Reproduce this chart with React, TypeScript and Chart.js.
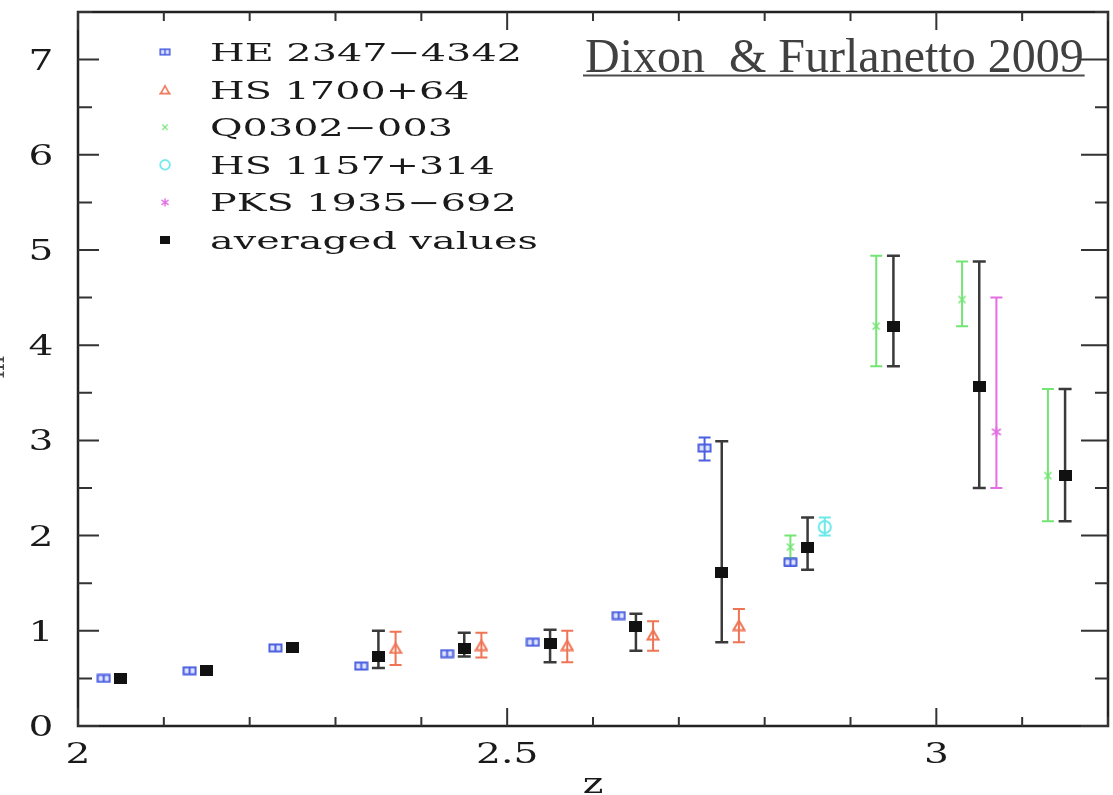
import React, { useEffect, useRef } from "react";
import { Chart, registerables } from "chart.js";

Chart.register(...registerables);

// ---- data: redshift z and measured values with error ranges ----
const heZ = [2.03, 2.13, 2.23, 2.33, 2.43, 2.53, 2.63, 2.73, 2.83];
const heVal = [0.5, 0.58, 0.82, 0.63, 0.76, 0.88, 1.16, 2.92, 1.72];
const heLo = [0.49, 0.57, 0.81, 0.62, 0.75, 0.87, 1.15, 2.79, 1.68];
const heHi = [0.51, 0.59, 0.83, 0.64, 0.77, 0.89, 1.17, 3.03, 1.76];

const hsZ = [2.37, 2.47, 2.57, 2.67, 2.77];
const hsVal = [0.82, 0.85, 0.85, 0.96, 1.06];
const hsLo = [0.64, 0.72, 0.67, 0.79, 0.88];
const hsHi = [0.99, 0.98, 1.0, 1.1, 1.23];

const qZ = [2.83, 2.93, 3.03, 3.13];
const qVal = [1.88, 4.2, 4.48, 2.63];
const qLo = [1.76, 3.78, 4.2, 2.15];
const qHi = [2.0, 4.94, 4.88, 3.54];

const hs2Z = [2.87];
const hs2Val = [2.09];
const hs2Lo = [2.0];
const hs2Hi = [2.19];

const pksZ = [3.07];
const pksVal = [3.09];
const pksLo = [2.5];
const pksHi = [4.5];

const avgZ = [2.05, 2.15, 2.25, 2.35, 2.45, 2.55, 2.65, 2.75, 2.85, 2.95, 3.05, 3.15];
const avgVal = [0.5, 0.58, 0.82, 0.73, 0.81, 0.87, 1.04, 1.61, 1.88, 4.2, 3.57, 2.63];
const avgLo = [0.5, 0.58, 0.82, 0.61, 0.73, 0.67, 0.79, 0.88, 1.64, 3.78, 2.5, 2.15];
const avgHi = [0.5, 0.58, 0.82, 1.0, 0.98, 1.01, 1.18, 2.99, 2.19, 4.94, 4.88, 3.54];

const seriesNames = [
  "HE 2347\u22124342",
  "HS 1700+64",
  "Q0302\u2212003",
  "HS 1157+314",
  "PKS 1935\u2212692",
  "averaged values",
];

const xTickValues = [2, 2.5, 3];
const xTickLabels = ["2", "2.5", "3"];
const yTickValues = [0, 1, 2, 3, 4, 5, 6, 7];
const yTickLabels = ["0", "1", "2", "3", "4", "5", "6", "7"];

const xAxisTitle = "z";
const yAxisTitle = "m";
const cornerNote = "Dixon  & Furlanetto 2009";

// ---- colours ----
const BLUE = "#4a5fe0";
const ORANGE = "#ee7454";
const GREEN = "#74e474";
const CYAN = "#6ae8ea";
const MAGENTA = "#e26ee2";
const BLACK = "#111111";

type Pt = { x: number; y: number; lo: number; hi: number };

function toPoints(z: number[], v: number[], lo: number[], hi: number[]): Pt[] {
  return z.map((x, i) => ({ x, y: v[i], lo: lo[i], hi: hi[i] }));
}

function makeCanvas(w: number, h: number, draw: (c: CanvasRenderingContext2D) => void) {
  const cv = document.createElement("canvas");
  cv.width = w;
  cv.height = h;
  const c = cv.getContext("2d")!;
  draw(c);
  return cv;
}

function buildMarkers() {
  const blue = makeCanvas(15, 10, (c) => {
    c.strokeStyle = BLUE;
    c.lineWidth = 2;
    c.fillStyle = "#dfe4ff";
    c.fillRect(1.5, 1.5, 12, 7);
    c.strokeRect(1.5, 1.5, 12, 7);
    c.beginPath();
    c.moveTo(7.5, 1.5);
    c.lineTo(7.5, 8.5);
    c.stroke();
  });
  const orange = makeCanvas(14, 13, (c) => {
    c.strokeStyle = ORANGE;
    c.lineWidth = 2;
    c.beginPath();
    c.moveTo(7, 2);
    c.lineTo(12.5, 11.5);
    c.lineTo(1.5, 11.5);
    c.closePath();
    c.stroke();
  });
  const green = makeCanvas(10, 10, (c) => {
    c.strokeStyle = GREEN;
    c.lineWidth = 1.6;
    c.beginPath();
    c.moveTo(1.5, 1.5);
    c.lineTo(8.5, 8.5);
    c.moveTo(8.5, 1.5);
    c.lineTo(1.5, 8.5);
    c.stroke();
  });
  const cyan = makeCanvas(16, 16, (c) => {
    c.strokeStyle = CYAN;
    c.lineWidth = 2;
    c.beginPath();
    c.arc(8, 8, 6, 0, Math.PI * 2);
    c.stroke();
  });
  const magenta = makeCanvas(12, 12, (c) => {
    c.strokeStyle = MAGENTA;
    c.lineWidth = 1.6;
    c.beginPath();
    c.moveTo(6, 1);
    c.lineTo(6, 11);
    c.moveTo(1.5, 3);
    c.lineTo(10.5, 9);
    c.moveTo(10.5, 3);
    c.lineTo(1.5, 9);
    c.stroke();
  });
  const black = makeCanvas(13, 11, (c) => {
    c.fillStyle = BLACK;
    c.fillRect(0, 0, 13, 11);
  });
  return [blue, orange, green, cyan, magenta, black];
}

function wideText(
  ctx: CanvasRenderingContext2D,
  text: string,
  x: number,
  y: number,
  font: string,
  sx: number,
  align: "left" | "center" | "right"
) {
  ctx.save();
  ctx.font = font;
  ctx.textAlign = "left";
  ctx.textBaseline = "alphabetic";
  const w = ctx.measureText(text).width * sx;
  const left = align === "center" ? x - w / 2 : align === "right" ? x - w : x;
  ctx.translate(left, y);
  ctx.scale(sx, 1);
  ctx.fillText(text, 0, 0);
  ctx.restore();
}

const errorBarPlugin = {
  id: "errorBars",
  beforeDatasetsDraw(chart: any) {
    const ctx: CanvasRenderingContext2D = chart.ctx;
    const xs = chart.scales.x;
    const ys = chart.scales.y;
    chart.data.datasets.forEach((ds: any) => {
      const color = ds.errColor;
      const cap = ds.capWidth;
      ctx.save();
      ctx.strokeStyle = color;
      ctx.lineWidth = ds.errWidth;
      (ds.data as Pt[]).forEach((p) => {
        if (p.hi - p.lo < 0.03) return;
        const px = xs.getPixelForValue(p.x);
        const top = ys.getPixelForValue(p.hi);
        const bot = ys.getPixelForValue(p.lo);
        ctx.beginPath();
        ctx.moveTo(px, top);
        ctx.lineTo(px, bot);
        ctx.moveTo(px - cap / 2, top);
        ctx.lineTo(px + cap / 2, top);
        ctx.moveTo(px - cap / 2, bot);
        ctx.lineTo(px + cap / 2, bot);
        ctx.stroke();
      });
      ctx.restore();
    });
  },
};

const framePlugin = {
  id: "frameAndText",
  afterDraw(chart: any) {
    const ctx: CanvasRenderingContext2D = chart.ctx;
    const xs = chart.scales.x;
    const ys = chart.scales.y;
    const { left, right, top, bottom } = chart.chartArea;

    ctx.save();
    // frame
    ctx.strokeStyle = "#222";
    ctx.lineWidth = 2.5;
    ctx.strokeRect(left, top, right - left, bottom - top);

    // ticks (inward on all four sides)
    ctx.lineWidth = 2;
    ctx.strokeStyle = "#333";
    ctx.beginPath();
    for (let i = 0; i <= 12; i++) {
      const v = 2 + i * 0.1;
      const px = xs.getPixelForValue(v);
      const major = i % 5 === 0;
      const len = major ? 18 : 9;
      ctx.moveTo(px, bottom);
      ctx.lineTo(px, bottom - len);
      ctx.moveTo(px, top);
      ctx.lineTo(px, top + len);
    }
    for (let i = 0; i <= 15; i++) {
      const v = i * 0.5;
      const py = ys.getPixelForValue(v);
      const major = i % 2 === 0;
      ctx.moveTo(left, py);
      ctx.lineTo(left + (major ? 21 : 14), py);
      ctx.moveTo(right, py);
      ctx.lineTo(right - (major ? 27 : 13), py);
    }
    ctx.stroke();

    // tick labels
    ctx.fillStyle = "#1a1a1a";
    const tickFont = '27px "DejaVu Serif"';
    xTickValues.forEach((v, i) => {
      wideText(ctx, xTickLabels[i], xs.getPixelForValue(v), 763, tickFont, 1.45, "center");
    });
    yTickValues.forEach((v, i) => {
      wideText(ctx, yTickLabels[i], 41, ys.getPixelForValue(v) + 10, tickFont, 1.45, "center");
    });
    wideText(ctx, xAxisTitle, (left + right) / 2, 793, tickFont, 1.45, "center");

    // y-axis title, rotated, sitting against the left edge of the page
    ctx.save();
    ctx.translate(4, 367);
    ctx.rotate(-Math.PI / 2);
    ctx.fillStyle = "#444";
    ctx.font = '24px "DejaVu Serif"';
    ctx.textAlign = "center";
    ctx.textBaseline = "alphabetic";
    ctx.fillText(yAxisTitle, 0, 0);
    ctx.restore();

    // legend
    const markers = chart.$markers as HTMLCanvasElement[];
    const legFont = '25px "DejaVu Serif"';
    ctx.font = legFont;
    const sx = 312 / ctx.measureText(seriesNames[0]).width;
    seriesNames.forEach((name, i) => {
      const cy = 52 + i * 37.6;
      const m = markers[i];
      const scale = i === 5 ? 0.75 : 0.8;
      ctx.drawImage(m, 165 - (m.width * scale) / 2, cy - (m.height * scale) / 2, m.width * scale, m.height * scale);
      ctx.fillStyle = "#1a1a1a";
      wideText(ctx, name, 210, cy + 9, legFont, sx, "left");
    });

    // reference note with underline
    ctx.fillStyle = "#404040";
    ctx.font = '48px "Liberation Serif"';
    ctx.textAlign = "left";
    ctx.textBaseline = "alphabetic";
    ctx.fillText(cornerNote, 585, 72);
    const w = ctx.measureText(cornerNote).width;
    ctx.strokeStyle = "#4a4a4a";
    ctx.lineWidth = 2;
    ctx.beginPath();
    ctx.moveTo(583, 75.5);
    ctx.lineTo(585 + w + 1, 75.5);
    ctx.stroke();
    ctx.restore();
  },
};

export default function App() {
  const ref = useRef<HTMLCanvasElement | null>(null);

  useEffect(() => {
    document.body.style.margin = "0";
    const markers = buildMarkers();
    const mk = (
      label: string,
      data: Pt[],
      marker: HTMLCanvasElement,
      errColor: string,
      errWidth: number,
      capWidth: number
    ) => ({
      label,
      data,
      pointStyle: marker,
      showLine: false,
      errColor,
      errWidth,
      capWidth,
    });

    const chart = new Chart(ref.current!, {
      type: "scatter",
      data: {
        datasets: [
          mk(seriesNames[0], toPoints(heZ, heVal, heLo, heHi), markers[0], BLUE, 2, 12),
          mk(seriesNames[1], toPoints(hsZ, hsVal, hsLo, hsHi), markers[1], ORANGE, 2, 12),
          mk(seriesNames[2], toPoints(qZ, qVal, qLo, qHi), markers[2], GREEN, 2, 12),
          mk(seriesNames[3], toPoints(hs2Z, hs2Val, hs2Lo, hs2Hi), markers[3], CYAN, 2, 12),
          mk(seriesNames[4], toPoints(pksZ, pksVal, pksLo, pksHi), markers[4], MAGENTA, 2, 12),
          mk(seriesNames[5], toPoints(avgZ, avgVal, avgLo, avgHi), markers[5], "#3a3a3a", 2.5, 13),
        ] as any,
      },
      options: {
        animation: false,
        responsive: false,
        devicePixelRatio: 1,
        layout: { padding: { left: 78, top: 12, right: 3, bottom: 69 } },
        scales: {
          x: { type: "linear", min: 2, max: 3.2, display: false },
          y: { type: "linear", min: 0, max: 7.5, display: false },
        },
        plugins: {
          legend: { display: false },
          tooltip: { enabled: false },
        },
        events: [],
      },
      plugins: [
        errorBarPlugin,
        framePlugin,
        {
          id: "markerStore",
          beforeInit(c: any) {
            c.$markers = markers;
          },
        },
      ],
    });
    return () => chart.destroy();
  }, []);

  return (
    <div style={{ width: 1113, height: 795, background: "#fff" }}>
      <canvas ref={ref} width={1113} height={795} style={{ display: "block" }} />
    </div>
  );
}
